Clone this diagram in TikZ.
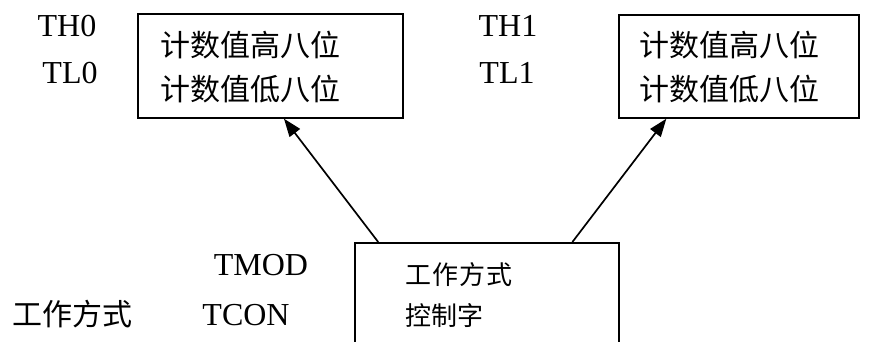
\documentclass[tikz,border=0pt]{standalone}
\usepackage{fontspec}
\setmainfont{Liberation Serif}
\newfontfamily\cjk{Noto Sans CJK SC}
\usetikzlibrary{arrows.meta,calc}
\begin{document}
\begin{tikzpicture}[x=1pt,y=-1pt,
  box/.style={draw,line width=1.7pt,inner sep=0pt,anchor=north west},
  lat/.style={font=\fontsize{32}{32}\selectfont,inner sep=0pt},
  cn/.style={font=\cjk\fontsize{30}{30}\selectfont,inner sep=0pt,anchor=west},
  cns/.style={font=\cjk\fontsize{26}{26}\selectfont,inner sep=0pt,anchor=west},
  arr/.style={line width=1.7pt,-{Triangle[length=18pt,width=13pt]}}]
\useasboundingbox (0,0) rectangle (872,342);
% boxes
\node[box,minimum width=265pt,minimum height=104pt] (b1) at (137,13) {};
\node[box,minimum width=240pt,minimum height=103pt] (b2) at (618,14) {};
\node[box,minimum width=264pt,minimum height=130pt] (b3) at (354,242) {};
% box texts
\node[cn] (b1a) at (160,45) {计数值高八位};
\node[cn] (b1b) at (160,89) {计数值低八位};
\node[cn] (b2a) at (639,45) {计数值高八位};
\node[cn] (b2b) at (639,89) {计数值低八位};
\node[cns] (b3a) at (405,275) {工\kern1pt 作\kern1pt 方\kern1pt 式};
\node[cns] (b3b) at (405,316) {控制字};
% side labels
\node[lat] (th0) at (67,26) {TH0};
\node[lat] (tl0) at (70,73) {TL0};
\node[lat] (th1) at (508,26) {TH1};
\node[lat] (tl1) at (507,73) {TL1};
\node[lat] (tmod) at (261,265) {TMOD};
\node[lat] (tcon) at (246,315) {TCON};
\node[cn] (gz) at (12,314) {工作方式};
% arrows
\draw[arr] ($(b3.north west)!0.091!(b3.north east)$) -- ($(b1.south west)!0.551!(b1.south east)$);
\draw[arr] ($(b3.north west)!0.822!(b3.north east)$) -- ($(b2.south west)!0.2!(b2.south east)$);
\end{tikzpicture}
\end{document}
